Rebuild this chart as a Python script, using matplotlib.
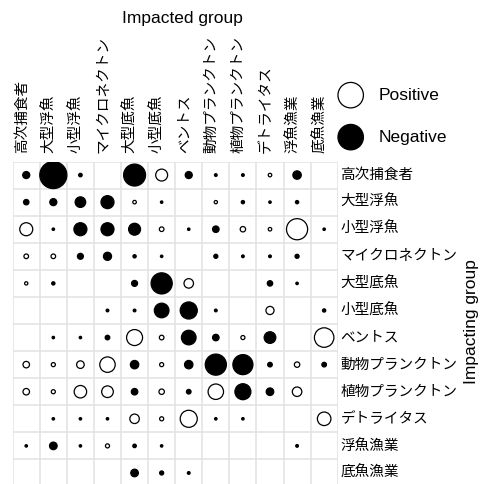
import numpy as np
import matplotlib
matplotlib.use("Agg")
import matplotlib.pyplot as plt
from matplotlib.patches import Circle

plt.rcParams["font.family"] = ["Noto Sans CJK JP", "DejaVu Sans"]

groups = ["高次捕食者", "大型浮魚", "小型浮魚", "マイクロネクトン", "大型底魚", "小型底魚",
          "ベントス", "動物プランクトン", "植物プランクトン", "デトライタス", "浮魚漁業", "底魚漁業"]

# mixed trophic impact: row = impacting group, column = impacted group
impact = np.array([
    [-0.26, -1.00, -0.13, 0.00, -0.81, 0.44, -0.26, -0.10, -0.10, 0.13, -0.31, 0.00],
    [-0.20, -0.26, -0.39, -0.48, 0.13, -0.09, 0.00, 0.12, -0.12, -0.09, -0.12, 0.00],
    [0.48, -0.09, -0.48, -0.48, -0.44, 0.17, -0.09, -0.24, 0.20, 0.13, 0.78, -0.09],
    [0.17, 0.17, -0.22, -0.30, -0.12, -0.09, 0.00, -0.15, -0.10, -0.10, -0.15, 0.00],
    [0.12, -0.12, 0.00, 0.00, -0.22, -0.78, 0.35, 0.00, 0.00, -0.20, -0.09, 0.00],
    [0.00, 0.00, 0.00, -0.10, -0.10, -0.54, -0.63, -0.10, 0.00, 0.30, 0.00, -0.12],
    [0.00, -0.09, -0.09, -0.17, 0.59, 0.17, -0.54, -0.24, 0.15, -0.43, 0.00, 0.72],
    [0.24, 0.15, 0.28, 0.57, -0.31, 0.15, -0.31, -0.78, -0.74, -0.17, 0.20, -0.17],
    [0.24, 0.15, 0.46, 0.43, -0.24, 0.20, -0.17, 0.57, -0.59, -0.28, 0.35, 0.00],
    [0.00, -0.09, -0.09, -0.09, 0.35, 0.15, 0.63, -0.09, -0.09, 0.00, 0.00, 0.50],
    [-0.09, -0.28, -0.09, 0.15, -0.13, -0.09, 0.00, 0.00, 0.00, 0.00, -0.10, 0.00],
    [0.00, 0.00, 0.00, 0.00, -0.28, -0.15, -0.10, 0.00, 0.00, 0.00, 0.00, 0.00],
])

latin = ["Liberation Sans", "DejaVu Sans"]
n = len(groups)

fig = plt.figure(figsize=(4.98, 4.84), dpi=100)
ax = fig.add_axes([0.0255, -0.0052, 0.6526, 0.6715])
ax.set_xlim(0, n)
ax.set_ylim(n, 0)
ax.set_aspect("equal")
ax.axis("off")

# cell grid
for k in range(n + 1):
    ax.axhline(k, color="#e2e2e2", lw=1.1, zorder=1)
    ax.axvline(k, color="#e2e2e2", lw=1.1, zorder=1)

for i in range(n):
    for j in range(n):
        v = impact[i, j]
        if v == 0:
            continue
        face = "black" if v < 0 else "white"
        ax.add_patch(Circle((j + 0.5, i + 0.5), abs(v) / 2, facecolor=face,
                            edgecolor="black", lw=0.9, zorder=3))

for j, name in enumerate(groups):
    ax.annotate(name, xy=(j + 0.5, 1), xycoords=("data", "axes fraction"),
                xytext=(-3, 6), textcoords="offset points", rotation=90,
                ha="center", va="bottom", fontsize=10.5)

for i, name in enumerate(groups):
    ax.annotate(name, xy=(1, i + 0.5), xycoords=("axes fraction", "data"),
                xytext=(2, 0), textcoords="offset points",
                ha="left", va="center", fontsize=10.5)

# legend
for y, face, label in [(-2.45, "white", "Positive"), (-0.9, "black", "Negative")]:
    ax.add_patch(Circle((12.48, y), 0.47, facecolor=face, edgecolor="black",
                        lw=0.9, clip_on=False))
    ax.text(13.5, y, label, ha="left", va="center", fontsize=12.5, family=latin)

fig.text(182 / 498, 1 - 18 / 484, "Impacted group", ha="center", va="center",
         fontsize=12.5, family=latin)
fig.text(471 / 498, 1 - 322 / 484, "Impacting group", ha="center", va="center",
         rotation=90, fontsize=12.5, family=latin)

fig.savefig("out.png", dpi=100)
